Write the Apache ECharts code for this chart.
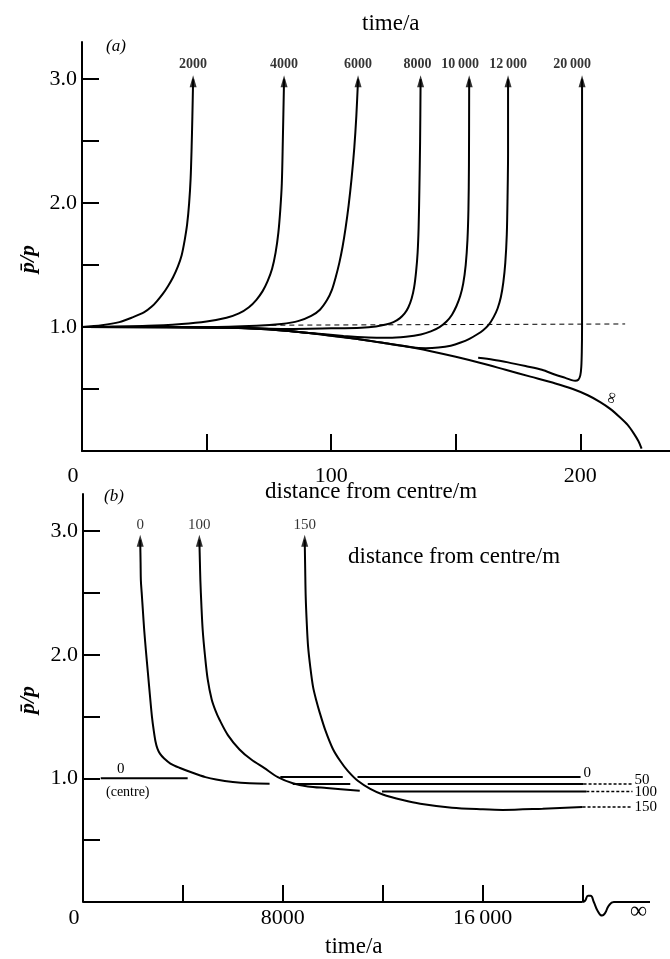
<!DOCTYPE html>
<html><head><meta charset="utf-8">
<script src="https://cdn.jsdelivr.net/npm/echarts@6/dist/echarts.min.js"></script>
<style>html,body{margin:0;padding:0;background:#fff}#c{width:670px;height:959px}</style>
</head><body><div id="c"></div>
<script>
// ---------- panel (a): p̄/p vs distance from centre (m), curves for times (a) ----------
const timeLabels = ['2000', '4000', '6000', '8000', '10\u2009000', '12\u2009000', '20\u2009000'];
const a2000 = [[0,1.0],[8,1.015],[15,1.04],[20.5,1.08],[25,1.12],[28,1.165],[30.1,1.21],[32.5,1.27],[34.5,1.33],[36.5,1.40],[38.5,1.49],[40,1.58],[41.2,1.7],[42.2,1.83],[43,2.0],[43.6,2.2],[44,2.45],[44.3,2.7],[44.6,3.0]];
const a4000 = [[0,1.0],[26.5,1.01],[40,1.025],[50,1.045],[58,1.075],[63,1.11],[67,1.16],[70,1.22],[72.5,1.29],[74.5,1.37],[76.3,1.47],[77.7,1.6],[78.8,1.76],[79.6,1.95],[80.2,2.16],[80.6,2.5],[81.1,3.0]];
const a6000 = [[0,1.0],[50,1.0],[70,1.01],[80,1.025],[87,1.05],[92,1.09],[95.5,1.14],[98.4,1.22],[100.3,1.3],[101.8,1.40],[103.3,1.52],[104.6,1.65],[105.8,1.8],[107,1.98],[108.2,2.2],[109.3,2.45],[110.1,2.7],[110.8,3.0]];
const a8000 = [[0,1.0],[60,0.995],[80,0.985],[100,0.99],[112,0.995],[118,1.005],[122,1.02],[125,1.04],[127.5,1.07],[129.5,1.11],[131,1.16],[132.3,1.23],[133.3,1.32],[134.1,1.45],[134.7,1.6],[135.1,1.8],[135.4,2.1],[135.7,2.5],[135.9,3.0]];
const a10000 = [[0,1.0],[60,0.995],[75,0.98],[90,0.955],[105,0.928],[115,0.915],[123,0.913],[130,0.922],[136,0.94],[140,0.965],[143.5,1.0],[146.3,1.045],[148.5,1.1],[150.3,1.17],[151.8,1.25],[153,1.35],[154,1.5],[154.7,1.7],[155.1,1.95],[155.3,2.3],[155.4,3.0]];
const a12000 = [[0,1.0],[60,0.995],[75,0.985],[90,0.955],[105,0.92],[120,0.875],[132,0.838],[138,0.83],[143,0.835],[148,0.85],[152,0.875],[155.5,0.905],[158.5,0.94],[161,0.975],[163.3,1.02],[165.2,1.08],[166.8,1.15],[168.1,1.24],[169.1,1.36],[169.9,1.52],[170.5,1.75],[170.8,2.05],[171,2.4],[171,3.0]];
const a20000 = [[159,0.752],[165,0.737],[171,0.715],[178,0.685],[184.6,0.655],[190,0.615],[194,0.59],[196.5,0.572],[198,0.566],[199.2,0.575],[200,0.61],[200.4,0.68],[200.6,0.8],[200.7,1.0],[200.7,2.0],[200.7,3.0]];
const aInfinity = [[0,1.0],[40,1.0],[60,0.995],[72,0.985],[82,0.97],[92,0.95],[100,0.93],[110,0.905],[120,0.875],[130,0.845],[140,0.805],[150,0.76],[160,0.71],[170,0.655],[180,0.6],[190,0.545],[197,0.5],[203,0.45],[208,0.395],[212,0.34],[216,0.27],[219,0.21],[221.5,0.14],[223.3,0.08],[224.6,0.02]];
const aDashed = [[76,1.015],[218,1.025]];
const aYTicks = [0.5,1.0,1.5,2.0,2.5,3.0];
const aYLabels = [1.0,2.0,3.0];
const aXTicks = [50,100,150,200];
const aXLabels = [0,100,200];
const timeLabelShift = [0,0,0,-3,-9,0,-10];

// ---------- panel (b): p̄/p vs time (a), curves for distances (m) ----------
const distLabels = ['0', '100', '150'];
const b0 = [[2290,2.93],[2305,2.75],[2317,2.6],[2350,2.5],[2400,2.35],[2450,2.2],[2520,2.03],[2600,1.85],[2680,1.67],[2760,1.5],[2830,1.39],[2900,1.3],[2980,1.24],[3080,1.2],[3250,1.16],[3500,1.12],[3860,1.086],[4390,1.045],[4900,1.01],[5330,0.99],[6000,0.97],[6670,0.96],[7470,0.957]];
const b100 = [[4659,2.93],[4680,2.75],[4699,2.6],[4740,2.4],[4792,2.2],[4880,2.0],[4993,1.8],[5150,1.64],[5300,1.55],[5462,1.476],[5800,1.35],[6265,1.234],[6750,1.15],[7250,1.085],[7800,1.01],[8400,0.96],[9000,0.935],[9750,0.922],[11080,0.90]];
const b150 = [[8876,2.93],[8895,2.7],[8916,2.47],[8960,2.25],[9010,2.07],[9100,1.9],[9210,1.74],[9340,1.63],[9480,1.53],[9700,1.39],[10000,1.24],[10300,1.14],[10600,1.06],[11000,0.98],[11500,0.915],[12000,0.87],[12800,0.825],[13500,0.795],[14770,0.763],[16000,0.75],[16800,0.745],[18400,0.755],[20000,0.768]];
const bCentre = [[710,1.0],[4190,1.0]];
const bRow0a = [[7900,1.012],[10400,1.012]];
const bRow0b = [[10990,1.012],[19920,1.012]];
const bRow50a = [[8400,0.955],[10700,0.955]];
const bRow50b = [[11400,0.955],[20040,0.955]];
const bRow100b = [[11970,0.893],[20150,0.893]];
const bDash50 = [[20040,0.955],[22000,0.955]];
const bDash100 = [[20150,0.893],[22000,0.893]];
const bDash150 = [[20000,0.768],[22000,0.768]];
const rowLabels = ['0', '50', '100', '150'];
const bAxisBase = [[0,0],[20000,0]];
const bAxisBreak = [[20000,0],[20100,0.01],[20220,0.05],[20320,0.05],[20450,0.0],[20600,-0.07],[20780,-0.11],[20900,-0.09],[21050,-0.03],[21250,0],[22700,0]];
const bYTicks = [0.5,1.0,1.5,2.0,2.5,3.0];
const bYLabels = [1.0,2.0,3.0];
const bXTicks = [4000,8000,12000,16000,20000];
const bXLabels = [0,8000,16000];

const SERIF = '"Liberation Serif", "DejaVu Serif", serif';
const chart = echarts.init(document.getElementById('c'), null, {renderer:'canvas'});

function ln(data, gi, extra) {
  return Object.assign({type:'line', xAxisIndex:gi, yAxisIndex:gi, data:data, showSymbol:false, symbol:'none',
    smooth:0.3, lineStyle:{color:'#000', width:2}, z:3, animation:false, silent:true}, extra || {});
}
function dash(data, label, off) {
  return ln(data, 1, {smooth:false, lineStyle:{color:'#000', width:1.5, type:[3,2]},
    endLabel:{show:true, formatter:label, color:'#000', fontFamily:SERIF, fontSize:15, distance:2, offset:off||[0,0]}});
}
const axisCommon = {
  axisLine:{show:true, lineStyle:{color:'#000', width:2}},
  axisTick:{show:true, inside:true, length:17, lineStyle:{color:'#000', width:2}},
  splitLine:{show:false},
  axisLabel:{color:'#000', fontFamily:SERIF, fontSize:22}
};
const fmtY = v => v.toFixed(1);
const fmtX = v => v === 0 ? '{z|0}' : String(v).replace(/(\d+)(\d{3})$/, (m, a, b) => a.length >= 2 ? a + '\u2009' + b : a + b);

const topCurves = [a2000, a4000, a6000, a8000, a10000, a12000, a20000];
const botCurves = [b0, b100, b150];

const option = {
  backgroundColor:'#fff',
  animation:false,
  grid:[
    {left:82, right:0, top:42, height:409},
    {left:83, right:20, top:494, height:408}
  ],
  xAxis:[
    Object.assign({}, axisCommon, {type:'value', gridIndex:0, min:0, max:236,
      axisTick:Object.assign({}, axisCommon.axisTick, {customValues:aXTicks}),
      axisLabel:Object.assign({}, axisCommon.axisLabel, {customValues:aXLabels, margin:14, formatter:fmtX,
        rich:{z:{fontFamily:SERIF, fontSize:22, color:'#000', padding:[0,18,0,0]}}})}),
    Object.assign({}, axisCommon, {type:'value', gridIndex:1, min:0, max:22700,
      axisLine:{show:false},
      axisTick:Object.assign({}, axisCommon.axisTick, {customValues:bXTicks}),
      axisLabel:Object.assign({}, axisCommon.axisLabel, {customValues:bXLabels, margin:5, formatter:fmtX,
        rich:{z:{fontFamily:SERIF, fontSize:22, color:'#000', padding:[0,18,0,0]}}})})
  ],
  yAxis:[
    Object.assign({}, axisCommon, {type:'value', gridIndex:0, min:0, max:3.3,
      axisTick:Object.assign({}, axisCommon.axisTick, {customValues:aYTicks}),
      axisLabel:Object.assign({}, axisCommon.axisLabel, {customValues:aYLabels, margin:5, formatter:fmtY})}),
    Object.assign({}, axisCommon, {type:'value', gridIndex:1, min:0, max:3.3,
      axisTick:Object.assign({}, axisCommon.axisTick, {customValues:bYTicks}),
      axisLabel:Object.assign({}, axisCommon.axisLabel, {customValues:bYLabels, margin:5, formatter:fmtY})})
  ],
  series:[
    ...topCurves.map(c => ln(c, 0)),
    ln(aInfinity, 0),
    ln(aDashed, 0, {smooth:false, lineStyle:{color:'#000', width:1, type:[5,4]}}),
    {type:'scatter', xAxisIndex:0, yAxisIndex:0, symbol:'triangle', symbolSize:[7,12], symbolOffset:[0,2],
      itemStyle:{color:'#000'}, z:5, silent:true,
      data: topCurves.map((c, i) => ({value:c[c.length-1], name:timeLabels[i], label:{offset:[timeLabelShift[i],0]}})),
      label:{show:true, position:'top', distance:4, formatter:'{b}', color:'#000', fontFamily:SERIF, fontSize:14, fontWeight:'bold'}},
    ...botCurves.map(c => ln(c, 1)),
    ln(bCentre, 1, {smooth:false}),
    ln(bRow0a, 1, {smooth:false}),
    ln(bRow0b, 1, {smooth:false, endLabel:{show:true, formatter:rowLabels[0], color:'#000', fontFamily:SERIF, fontSize:15, distance:3, offset:[0,-4]}}),
    ln(bRow50a, 1, {smooth:false}),
    ln(bRow50b, 1, {smooth:false}),
    ln(bRow100b, 1, {smooth:false}),
    dash(bDash50, rowLabels[1], [0,-4]),
    dash(bDash100, rowLabels[2], [0,0]),
    dash(bDash150, rowLabels[3], [0,0]),
    {type:'scatter', xAxisIndex:1, yAxisIndex:1, symbol:'triangle', symbolSize:[7,12], symbolOffset:[0,1],
      itemStyle:{color:'#000'}, z:5, silent:true,
      data: botCurves.map((c, i) => ({value:c[0], name:distLabels[i]})),
      label:{show:true, position:'top', distance:2, formatter:'{b}', color:'#000', fontFamily:SERIF, fontSize:15}},
    ln(bAxisBase, 1, {smooth:false, clip:false}),
    ln(bAxisBreak, 1, {smooth:0.5, clip:false})
  ],
  graphic:[
    {type:'text', left:362, top:12, style:{text:'time/a', font:'23px ' + SERIF, fill:'#000'}},
    {type:'text', left:265, top:480, style:{text:'distance from centre/m', font:'23px ' + SERIF, fill:'#000'}},
    {type:'text', left:348, top:545, style:{text:'distance from centre/m', font:'23px ' + SERIF, fill:'#000'}},
    {type:'text', left:325, top:935, style:{text:'time/a', font:'23px ' + SERIF, fill:'#000'}},
    {type:'text', left:106, top:38, style:{text:'(a)', font:'italic 17px ' + SERIF, fill:'#000'}},
    {type:'text', left:104, top:488, style:{text:'(b)', font:'italic 17px ' + SERIF, fill:'#000'}},
    {type:'text', left:117, top:762, style:{text:'0', font:'15px ' + SERIF, fill:'#000'}},
    {type:'text', left:106, top:785, style:{text:'(centre)', font:'14px ' + SERIF, fill:'#000'}},
    {type:'text', left:630, top:900, style:{text:'\u221e', font:'24px ' + SERIF, fill:'#000'}},
    {type:'text', x:612, y:398, rotation:Math.PI*0.42, style:{text:'\u221e', font:'16px ' + SERIF, fill:'#000', align:'center', verticalAlign:'middle', textAlign:'center', textVerticalAlign:'middle'}},
    {type:'text', x:28, y:259, rotation:Math.PI/2, style:{text:'p\u0304/p', font:'italic bold 22px ' + SERIF, fill:'#000', align:'center', verticalAlign:'middle', textAlign:'center', textVerticalAlign:'middle'}},
    {type:'text', x:28, y:700, rotation:Math.PI/2, style:{text:'p\u0304/p', font:'italic bold 22px ' + SERIF, fill:'#000', align:'center', verticalAlign:'middle', textAlign:'center', textVerticalAlign:'middle'}}
  ]
};
chart.setOption(option);
</script></body></html>
